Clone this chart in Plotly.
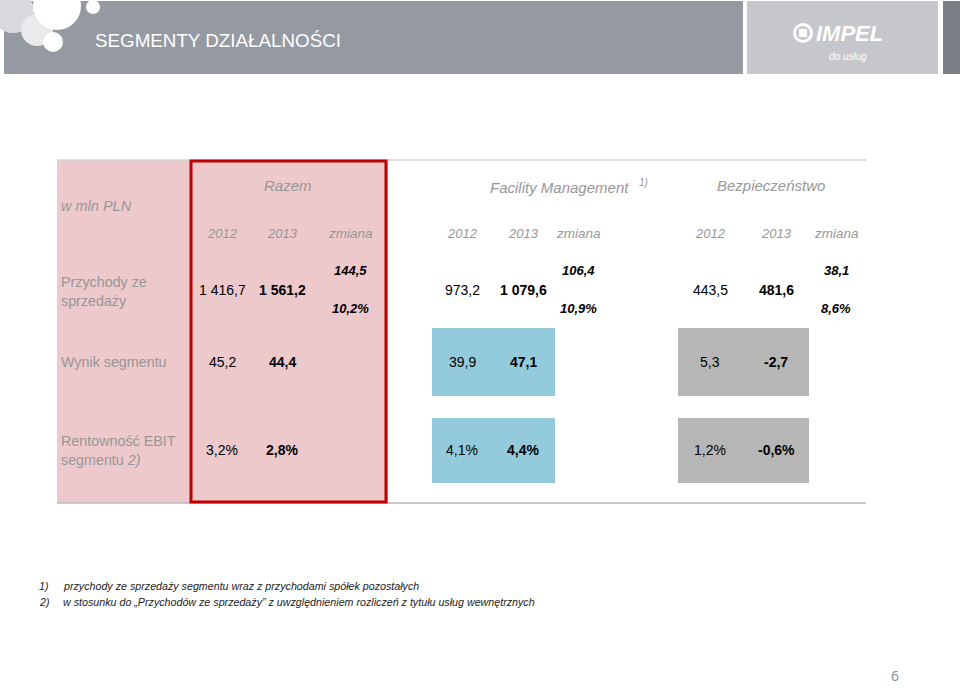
import plotly.graph_objects as go

# ---------------- data ----------------
segments = ["Razem", "Facility Management", "Bezpieczeństwo"]
period_labels = ["2012", "2013", "zmiana"]
row_labels = ["Przychody ze<br>sprzedaży", "Wynik segmentu", "Rentowność EBIT<br>segmentu <i>2)</i>"]
unit_label = "w mln PLN"

revenue_2012 = [1416.7, 973.2, 443.5]
revenue_2013 = [1561.2, 1079.6, 481.6]
revenue_change = [144.5, 106.4, 38.1]
revenue_change_pct = [10.2, 10.9, 8.6]
result_2012 = [45.2, 39.9, 5.3]
result_2013 = [44.4, 47.1, -2.7]
ebit_margin_2012 = [3.2, 4.1, 1.2]
ebit_margin_2013 = [2.8, 4.4, -0.6]

footnotes = [
    ("1)", "przychody ze sprzedaży segmentu wraz z przychodami spółek pozostałych"),
    ("2)", "w stosunku do „Przychodów ze sprzedaży” z uwzględnieniem rozliczeń z tytułu usług wewnętrznych"),
]
title = "SEGMENTY DZIAŁALNOŚCI"
page_number = "6"


def fmt(v, pct=False):
    s = f"{abs(v):,.1f}".replace(",", " ").replace(".", ",")
    if v < 0:
        s = "-" + s
    return s + ("%" if pct else "")


# ---------------- layout constants ----------------
W, H = 960, 688
FONT = "Liberation Sans, Arial, sans-serif"
GRAY_TXT = "#979797"
seg_cols = [[222, 282, 350], [462, 523, 578], [710, 776, 836]]
seg_title_x = [288, 559, 771]
seg_title_y = [185, 187, 185]
year_y = 233
rev_y, chg_y, pct_y = 290, 270, 308
res_y, ebit_y = 362, 450
label_x = 60

fig = go.Figure()
fig.add_trace(go.Scatter(x=[0, W], y=[0, H], mode="markers", marker=dict(opacity=0), hoverinfo="skip", showlegend=False))

shapes = []
# header
shapes.append(dict(type="rect", x0=4, x1=743, y0=1, y1=74, fillcolor="#959aa2", line=dict(width=0), layer="below"))
shapes.append(dict(type="rect", x0=747, x1=938, y0=1, y1=74, fillcolor="#c5c7cc", line=dict(width=0), layer="below"))
shapes.append(dict(type="rect", x0=943, x1=960, y0=1, y1=74, fillcolor="#7b7e85", line=dict(width=0), layer="below"))
# decorative circles
for cx, cy, r, col in [(13, 12, 21, "#d9dadd"), (37, 30, 16, "#e9eaec"), (57, 6, 24, "#ffffff"),
                       (53, 42, 10, "#ffffff"), (93, 7, 7, "#ffffff")]:
    shapes.append(dict(type="circle", x0=cx - r, x1=cx + r, y0=cy - r, y1=cy + r, fillcolor=col, line=dict(width=0), layer="below"))
# logo globe
shapes.append(dict(type="circle", x0=793, x1=813, y0=23, y1=43, fillcolor="#ffffff", line=dict(width=0)))
shapes.append(dict(type="circle", x0=796, x1=810, y0=26, y1=40, fillcolor="#c5c7cc", line=dict(width=0)))
shapes.append(dict(type="rect", x0=799, x1=807, y0=29, y1=37, fillcolor="#ffffff", line=dict(width=0)))

# table backgrounds
shapes.append(dict(type="rect", x0=57, x1=388, y0=160, y1=503, fillcolor="#edc9cb", line=dict(width=0), layer="below"))
box_x = [None, (432, 555), (678, 809)]
box_col = [None, "#93cbdc", "#b6b6b6"]
for i in (1, 2):
    for y0, y1 in [(328, 396), (418, 483)]:
        shapes.append(dict(type="rect", x0=box_x[i][0], x1=box_x[i][1], y0=y0, y1=y1, fillcolor=box_col[i], line=dict(width=0), layer="below"))
shapes.append(dict(type="line", x0=57, x1=866, y0=160, y1=160, line=dict(color="#d2d2d2", width=1.5)))
shapes.append(dict(type="line", x0=57, x1=866, y0=503, y1=503, line=dict(color="#b9b9b9", width=1.5)))
shapes.append(dict(type="rect", x0=191, x1=386, y0=161, y1=502, line=dict(color="#c00000", width=3), fillcolor="rgba(0,0,0,0)"))


def txt(x, y, t, size=14, color="#000000", xanchor="center", bold=False, italic=False, family=FONT, yanchor="middle"):
    if bold:
        t = f"<b>{t}</b>"
    if italic:
        t = f"<i>{t}</i>"
    fig.add_annotation(x=x, y=y, xref="x", yref="y", text=t, showarrow=False, xanchor=xanchor, yanchor=yanchor,
                       font=dict(size=size, color=color, family=family), align="left", borderpad=0)


# header texts
txt(94, 40, title, size=18.8, color="#ffffff", xanchor="left")
txt(815, 33, "IMPEL", size=22, color="#ffffff", xanchor="left", bold=True, italic=True)
txt(848, 56, "do usług", size=10, color="#ffffff", xanchor="center", italic=True)

# table texts
txt(label_x, 206, unit_label, size=14.5, color=GRAY_TXT, xanchor="left", italic=True)
for i, name in enumerate(segments):
    txt(seg_title_x[i], seg_title_y[i], name, size=15, color=GRAY_TXT, italic=True)
    for j, p in enumerate(period_labels):
        txt(seg_cols[i][j], year_y, p, size=13.5 if j == 2 else 13, color=GRAY_TXT, italic=True)
    cx = seg_cols[i]
    txt(cx[0], rev_y, fmt(revenue_2012[i]))
    txt(cx[1], rev_y, fmt(revenue_2013[i]), bold=True)
    txt(cx[2], chg_y, fmt(revenue_change[i]), size=13, bold=True, italic=True)
    txt(cx[2], pct_y, fmt(revenue_change_pct[i], pct=True), size=13, bold=True, italic=True)
    txt(cx[0], res_y, fmt(result_2012[i]))
    txt(cx[1], res_y, fmt(result_2013[i]), bold=True)
    txt(cx[0], ebit_y, fmt(ebit_margin_2012[i], pct=True))
    txt(cx[1], ebit_y, fmt(ebit_margin_2013[i], pct=True), bold=True)
txt(643, 182, "1)", size=10, color=GRAY_TXT, italic=True)

for lab, y in zip(row_labels, [291, res_y, ebit_y]):
    txt(label_x, y, lab, size=14.3, color=GRAY_TXT, xanchor="left")

# footnotes
for k, (n, t) in enumerate(footnotes):
    y = 586 + 16 * k
    txt(38, y, n, size=10.7, color="#222222", xanchor="left", italic=True)
    txt(62, y, t, size=10.7, color="#222222", xanchor="left", italic=True)

txt(895, 686, page_number, size=14, color="#8a8a8a", family="Open Sans, sans-serif", yanchor="bottom")

fig.update_layout(
    width=W, height=H, margin=dict(l=0, r=0, t=0, b=0),
    paper_bgcolor="#ffffff", plot_bgcolor="#ffffff", shapes=shapes,
    xaxis=dict(range=[0, W], visible=False, fixedrange=True),
    yaxis=dict(range=[H, 0], visible=False, fixedrange=True),
    showlegend=False,
)
fig.write_html("out.html", config={"displayModeBar": False},
               post_script="document.body.style.margin='0';document.body.style.overflow='hidden';")
